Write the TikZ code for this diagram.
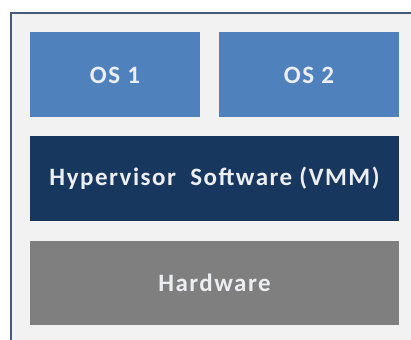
\documentclass[tikz,border=0pt]{standalone}
\usepackage{fontspec}
\setmainfont{Carlito}
\newfontfamily\boxfont[LetterSpace=6]{Carlito}
\usepackage{tikz}
\definecolor{osblue}{RGB}{79, 129, 189}
\definecolor{navy}{RGB}{23, 55, 94}
\definecolor{hwgray}{RGB}{127, 127, 127}
\definecolor{frame}{RGB}{72, 90, 122}
\definecolor{back}{RGB}{242, 242, 242}
\definecolor{label}{RGB}{236, 238, 242}
\newcommand*{\h}{85}

\begin{document}
\begin{tikzpicture}[
   x=1pt, y=-1pt,
   osbox/.style={rectangle, draw=none, fill=osblue, text=label,
                 inner sep=0, minimum height=\h,
                 font=\boxfont\bfseries\fontsize{25}{30}\selectfont},
   hyperbox/.style={rectangle, draw=none, fill=navy, text=label,
                    inner sep=0, minimum height=\h, minimum width=369,
                    font=\boxfont\bfseries\fontsize{25}{30}\selectfont},
   hwbox/.style={rectangle, draw=none, fill=hwgray, text=label,
                 inner sep=0, minimum height=84, minimum width=369,
                 font=\boxfont\bfseries\fontsize{25}{30}\selectfont}
  ]

  % Page and frame
  \useasboundingbox (0, 0) rectangle (411, 339);
  \clip (0, 0) rectangle (411, 339);
  \fill[white] (0, 0) rectangle (411, 339);
  \draw[frame, fill=back, line width=2] (11, 13) rectangle (420, 350);

  \node (os1) at (115, 75) [osbox, minimum width=170] { OS 1 };
  \node (os2) at (309, 75) [osbox, minimum width=180] { OS 2 };

  \node (vmm) at (214.5, 178.5) [hyperbox] { Hypervisor~ Software (VMM) };

  \node (hw) at (214.5, 283) [hwbox] { Hardware };

\end{tikzpicture}
\end{document}
